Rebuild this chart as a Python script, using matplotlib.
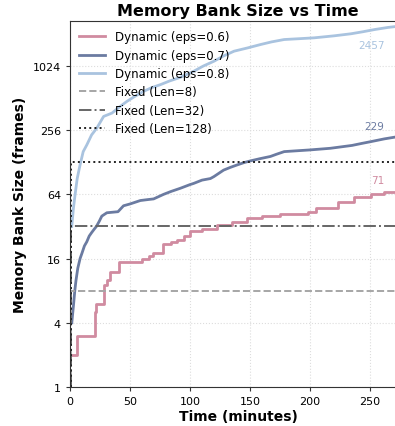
import matplotlib
matplotlib.use('Agg')
import matplotlib.pyplot as plt
from matplotlib.ticker import FixedLocator, FixedFormatter

# memory bank size (frames) over time (minutes)
t_eps06 = [0.5, 6, 20.5, 22, 28.7, 30.7, 33.5, 41, 60, 65.5, 69.5, 77.5, 84, 89, 94.6, 100,
           110, 122.7, 135, 147.8, 160, 175, 198, 205, 223, 237, 251, 262, 280]
v_eps06 = [2, 3, 5, 6, 9, 10, 12, 15, 16, 17, 18, 22, 23, 24, 26, 29,
           30, 33, 35, 38, 40, 42, 44, 48, 54, 60, 64, 68, 71]

t_eps07 = [1.5, 3, 4, 5, 6.5, 8.4, 10, 12, 14, 16, 18, 20, 22, 24.5, 26.5, 30.7, 40, 44.6,
           50, 58.6, 64, 69.7, 78, 84, 92, 100, 103, 110, 117, 120, 128, 134, 139.5, 145,
           150.6, 158, 167, 172, 178.5, 200, 217, 235, 243, 251, 262, 280]
v_eps07 = [4, 6, 8, 10, 13, 16, 18, 21, 23, 26, 28, 30, 32, 36, 40, 43, 44, 50,
           52, 56, 57, 58, 64, 68, 73, 79, 81, 87, 90, 94, 108, 115, 121, 127,
           132, 138, 145, 152, 161, 167, 173, 184, 192, 200, 212, 229]

t_eps08 = [1.5, 2.8, 4.2, 6, 8.4, 11, 14, 18, 22.3, 28, 35, 41, 47.4, 54, 61.3, 68, 75.3,
           83, 92, 103, 111, 120, 128, 136.7, 148, 159, 168, 178.5, 190, 203.6, 220, 234,
           244, 253.8, 265, 280]
v_eps08 = [32, 47, 63, 90, 121, 161, 186, 231, 267, 344, 370, 420, 476, 530, 591, 640, 683,
           740, 800, 911, 1020, 1134, 1270, 1407, 1510, 1627, 1720, 1810, 1840, 1878, 1960, 2048,
           2140, 2245, 2350, 2457]

fixed_len = [8, 32, 128]

t_max = 280
y_ticks = [1, 4, 16, 64, 256, 1024]

c06 = '#d08ba0'
c07 = '#6b7ba1'
c08 = '#a9c3df'

fig = plt.figure(figsize=(3.95, 4.27), dpi=100)
ax = fig.add_axes([70/395, 39/427, 336/395, 366/427])

ax.step(t_eps06, v_eps06, where='post', color=c06, lw=2, label='Dynamic (eps=0.6)')
ax.plot(t_eps07, v_eps07, color=c07, lw=2, label='Dynamic (eps=0.7)')
ax.plot(t_eps08, v_eps08, color=c08, lw=2, label='Dynamic (eps=0.8)')

styles = [('--', '#a6a6a6'), ('-.', '#666666'), (':', '#222222')]
for L, (ls, c) in zip(fixed_len, styles):
    ax.plot([0.6, 0.6, t_max], [1, L, L], ls=ls, color=c, lw=1.4, label=f'Fixed (Len={L})')

# end labels
ax.annotate(str(v_eps06[-1]), (262, v_eps06[-1]), xytext=(0, 7), textcoords='offset points',
            ha='right', va='center', color=c06, fontsize=7.5)
ax.annotate(str(v_eps07[-1]), (262, v_eps07[-1]), xytext=(0, 7), textcoords='offset points',
            ha='right', va='center', color=c07, fontsize=7.5)
ax.annotate(str(v_eps08[-1]), (262, v_eps08[-1]), xytext=(0, -14), textcoords='offset points',
            ha='right', va='center', color=c08, fontsize=7.5)

ax.set_yscale('log', base=2)
ax.set_ylim(1, 2700)
ax.set_xlim(0, t_max)
ax.yaxis.set_major_locator(FixedLocator(y_ticks))
ax.yaxis.set_major_formatter(FixedFormatter([str(v) for v in y_ticks]))
ax.yaxis.set_minor_locator(FixedLocator([]))
ax.set_xticks([0, 50, 100, 150, 200, 250])
ax.tick_params(labelsize=8, length=3, color='#333333')
for s in ax.spines.values():
    s.set_color('#333333')

ax.grid(True, ls=':', color='#dddddd', lw=0.8)
ax.set_axisbelow(True)

ax.set_xlabel('Time (minutes)', fontsize=10, fontweight='bold', labelpad=2)
ax.set_ylabel('Memory Bank Size (frames)', fontsize=10, fontweight='bold')
ax.set_title('Memory Bank Size vs Time', fontsize=11.5, fontweight='bold', pad=4)

ax.legend(loc='upper left', frameon=False, fontsize=8.5, handlelength=2.2,
          borderaxespad=0.4, labelspacing=0.45)

fig.savefig('out.png', dpi=100)
